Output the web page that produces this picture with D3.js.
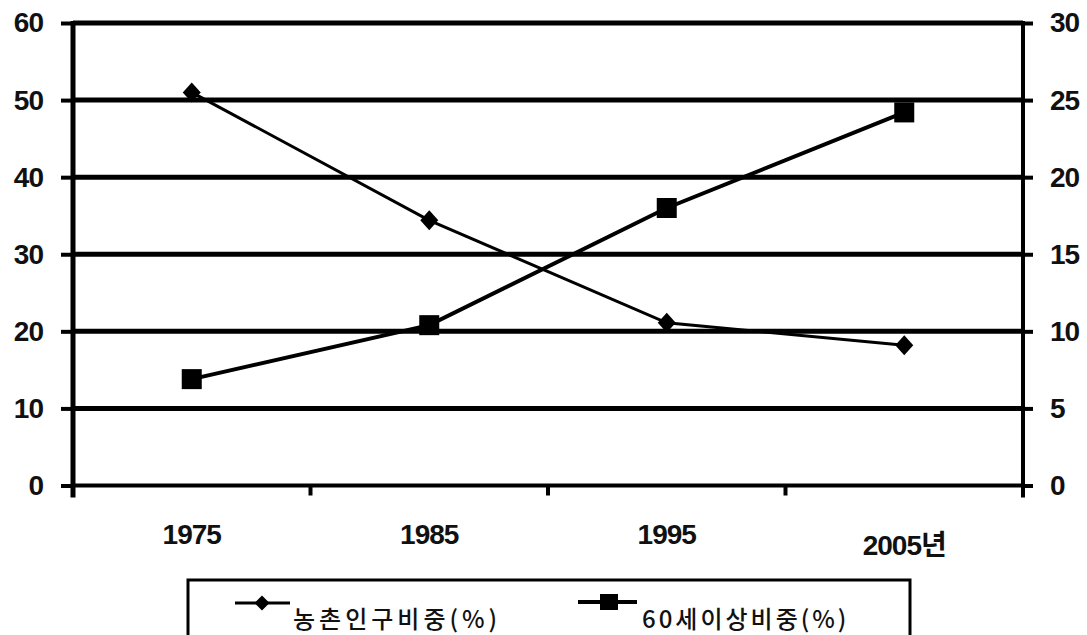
<!DOCTYPE html>
<html>
<head>
<meta charset="utf-8">
<script src="https://cdn.jsdelivr.net/npm/d3@7"></script>
<style>
  html, body { margin: 0; padding: 0; background: #fff; }
  svg { display: block; }
  .num { font-family: "Liberation Sans", Arial, "Noto Sans CJK KR", sans-serif; font-weight: bold; }
  .kr { font-family: "Noto Sans CJK KR", sans-serif; font-weight: 500; }
</style>
</head>
<body>
<svg id="chart" width="1087" height="635"></svg>
<script>
// Categories (years) and the two series
const years = ["1975", "1985", "1995", "2005"];
const yearLabels = ["1975", "1985", "1995", "2005년"];
const ruralShare = [51, 34.4, 21.1, 18.2];      // 농촌인구비중(%) - left axis
const over60Share = [6.9, 10.4, 18.0, 24.2];    // 60세이상비중(%) - right axis
const leftTicks = [0, 10, 20, 30, 40, 50, 60];
const rightTicks = [0, 5, 10, 15, 20, 25, 30];
const seriesNames = ["농촌인구비중(%)", "60세이상비중(%)"];

const svg = d3.select("#chart");
const plot = { left: 73, right: 1023, top: 23, bottom: 485.5 };

const x = d3.scaleBand().domain(years).range([plot.left, plot.right]);
const yL = d3.scaleLinear().domain([0, 60]).range([plot.bottom, plot.top]);
const yR = d3.scaleLinear().domain([0, 30]).range([plot.bottom, plot.top]);
const cx = d => x(d) + x.bandwidth() / 2;

// Horizontal gridlines (10..60)
svg.append("g").selectAll("line")
  .data(leftTicks.filter(t => t > 0))
  .join("line")
  .attr("x1", plot.left).attr("x2", plot.right)
  .attr("y1", d => yL(d)).attr("y2", d => yL(d))
  .attr("stroke", "#000").attr("stroke-width", 5);

// Left axis
const gL = svg.append("g").attr("transform", `translate(${plot.left},0)`)
  .call(d3.axisLeft(yL).tickValues(leftTicks).tickSize(12).tickPadding(18));
gL.select(".domain").remove();
gL.selectAll(".tick line").attr("stroke", "#000").attr("stroke-width", 4);
gL.selectAll(".tick text").attr("class", "num").attr("font-size", 28)
  .attr("fill", "#111").attr("letter-spacing", -1);
svg.append("line").attr("x1", plot.left).attr("x2", plot.left)
  .attr("y1", plot.top - 2).attr("y2", plot.bottom + 12)
  .attr("stroke", "#000").attr("stroke-width", 5);

// Right axis
const gR = svg.append("g").attr("transform", `translate(${plot.right},0)`)
  .call(d3.axisRight(yR).tickValues(rightTicks).tickSize(10).tickPadding(17));
gR.select(".domain").remove();
gR.selectAll(".tick line").attr("stroke", "#000").attr("stroke-width", 4);
gR.selectAll(".tick text").attr("class", "num").attr("font-size", 28)
  .attr("fill", "#111").attr("letter-spacing", -1);
svg.append("line").attr("x1", plot.right).attr("x2", plot.right)
  .attr("y1", plot.top - 2).attr("y2", plot.bottom + 12)
  .attr("stroke", "#000").attr("stroke-width", 4);

// Bottom axis line and category boundary ticks
svg.append("line").attr("x1", plot.left).attr("x2", plot.right)
  .attr("y1", plot.bottom).attr("y2", plot.bottom)
  .attr("stroke", "#000").attr("stroke-width", 4);
const edges = years.map(d => x(d)).concat([plot.right]);
svg.append("g").selectAll("line").data(edges).join("line")
  .attr("x1", d => d).attr("x2", d => d)
  .attr("y1", plot.bottom).attr("y2", plot.bottom + 10)
  .attr("stroke", "#000").attr("stroke-width", 4);

// Category labels
svg.append("g").selectAll("text").data(years).join("text")
  .attr("class", "num")
  .attr("x", d => cx(d))
  .attr("y", (d, i) => i === 3 ? 555 : 544)
  .attr("text-anchor", "middle")
  .attr("font-size", 28).attr("letter-spacing", -1).attr("fill", "#111")
  .text((d, i) => yearLabels[i]);

// Series lines
const lineL = d3.line().x((d, i) => cx(years[i])).y(d => yL(d));
const lineR = d3.line().x((d, i) => cx(years[i])).y(d => yR(d));
svg.append("path").datum(ruralShare).attr("d", lineL)
  .attr("fill", "none").attr("stroke", "#000").attr("stroke-width", 3);
svg.append("path").datum(over60Share).attr("d", lineR)
  .attr("fill", "none").attr("stroke", "#000").attr("stroke-width", 4);

// Markers
const diamond = (px, py, w, h) => `M${px},${py - h / 2}L${px + w / 2},${py}L${px},${py + h / 2}L${px - w / 2},${py}Z`;
svg.append("g").selectAll("path").data(ruralShare).join("path")
  .attr("d", (d, i) => diamond(cx(years[i]), yL(d), 18, 20))
  .attr("fill", "#000");
svg.append("g").selectAll("rect").data(over60Share).join("rect")
  .attr("x", (d, i) => cx(years[i]) - 10).attr("y", d => yR(d) - 10)
  .attr("width", 20).attr("height", 20).attr("fill", "#000");

// Legend
const lg = svg.append("g");
lg.append("rect").attr("x", 188).attr("y", 580).attr("width", 722).attr("height", 80)
  .attr("fill", "none").attr("stroke", "#000").attr("stroke-width", 3);
// item 1
lg.append("line").attr("x1", 235).attr("x2", 290).attr("y1", 603).attr("y2", 603)
  .attr("stroke", "#000").attr("stroke-width", 3);
lg.append("path").attr("d", diamond(262, 603, 15, 15)).attr("fill", "#000");
lg.append("text").attr("class", "kr").attr("x", 293).attr("y", 628)
  .attr("font-size", 24).attr("letter-spacing", 4).attr("fill", "#111").text(seriesNames[0]);
// item 2
lg.append("line").attr("x1", 578).attr("x2", 637).attr("y1", 602).attr("y2", 602)
  .attr("stroke", "#000").attr("stroke-width", 4);
lg.append("rect").attr("x", 600).attr("y", 594).attr("width", 18).attr("height", 16).attr("fill", "#000");
lg.append("text").attr("class", "kr").attr("x", 642).attr("y", 628)
  .attr("font-size", 24).attr("letter-spacing", 3).attr("fill", "#111").text(seriesNames[1]);
</script>
</body>
</html>
